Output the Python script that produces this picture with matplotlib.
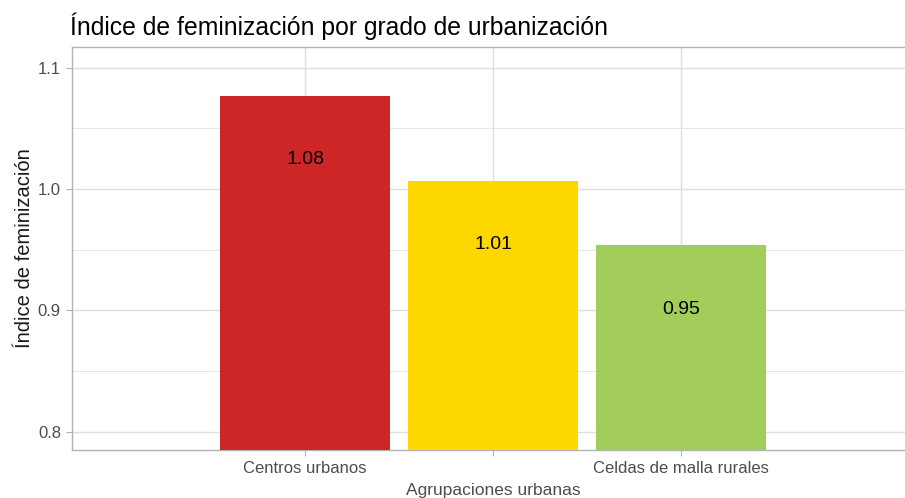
import matplotlib.pyplot as plt
import numpy as np

plt.rcParams['font.family'] = ['Liberation Sans', 'DejaVu Sans']

# data
categories = ["Centros urbanos", "Clusters urbanos", "Celdas de malla rurales"]
tick_labels = ["Centros urbanos", "", "Celdas de malla rurales"]
indice = [1.077, 1.007, 0.954]
bar_text = ["1.08", "1.01", "0.95"]
colors = ['#CD2626', '#FFD700', '#A2CD5A']

W, H = 905, 498
fig = plt.figure(figsize=(W / 100, H / 100), dpi=100)
ax = fig.add_axes([72 / W, (H - 450) / H, (914 - 72) / W, (450 - 47) / H])

x = np.arange(len(categories))
ax.bar(x, indice, width=0.9, color=colors, zorder=3)
for xi, v, t in zip(x, indice, bar_text):
    ax.text(xi, v - 0.053, t, ha='center', va='center', fontsize=14, color='black', zorder=4)

ax.set_ylim(0.785, 1.117)
ax.set_xlim(-1.24, 3.24)
ax.set_yticks([0.8, 0.9, 1.0, 1.1])
ax.set_yticklabels(['0.8', '0.9', '1.0', '1.1'])
ax.set_yticks([0.85, 0.95, 1.05], minor=True)
ax.set_xticks(x)
ax.set_xticklabels(tick_labels)

ax.grid(True, which='major', color='#dedede', linewidth=1.0, zorder=0)
ax.grid(True, which='minor', axis='y', color='#e6e6e6', linewidth=0.7, zorder=0)
ax.tick_params(which='major', colors='#b3b3b3', labelcolor='#4d4d4d', labelsize=12, length=4, width=0.8, pad=4)
ax.tick_params(which='minor', length=0)
for s in ax.spines.values():
    s.set_color('#b3b3b3')
    s.set_linewidth(1.0)

ax.set_xlabel('Agrupaciones urbanas', fontsize=12.5, color='#4d4d4d', labelpad=5)
ax.set_ylabel('Índice de feminización', fontsize=14.5, color='#1a1a1a', labelpad=3)
fig.text(70 / W, 1 - 26 / H, 'Índice de feminización por grado de urbanización',
         fontsize=17.8, color='black', ha='left', va='center')

plt.savefig('out.png', dpi=100)
